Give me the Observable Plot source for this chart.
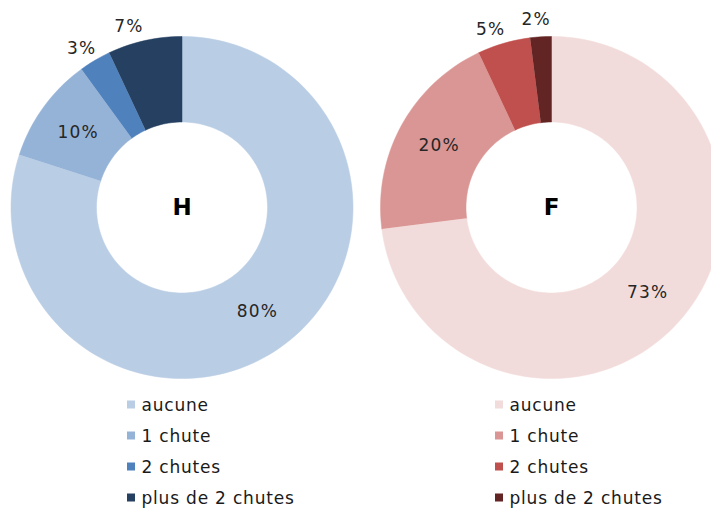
<!DOCTYPE html>
<html><head><meta charset="utf-8">
<script src="https://cdn.jsdelivr.net/npm/d3@7"></script>
<script src="https://cdn.jsdelivr.net/npm/@observablehq/plot@0.6"></script>
<style>body{margin:0;background:#fff;overflow:hidden} .lbl text{letter-spacing:1.2px} .leg text{letter-spacing:0.8px}</style>
</head><body><div id="chart"></div>
<script>
// ---- data ----
const categories = ["aucune", "1 chute", "2 chutes", "plus de 2 chutes"];
const groups = ["H", "F"];
const valuesH = [80, 10, 3, 7];
const valuesF = [73, 20, 5, 2];
const colorsH = ["#b9cde5", "#95b3d7", "#4f81bd", "#254061"];
const colorsF = ["#f2dcdb", "#da9694", "#c0504d", "#632523"];

// ---- layout (in units of donut outer radius) ----
const W = 711, H = 509, R = 171;           // px
const cxPx = [181.5, 551], cyPx = 207;
const toX = px => (px - cxPx[0]) / R;
const toY = py => (cyPx - py) / R;
const inner = 0.5;
const series = [
  {g: "H", values: valuesH, colors: colorsH, cx: toX(cxPx[0]), sq: toX(131), tx: toX(141)},
  {g: "F", values: valuesF, colors: colorsF, cx: toX(cxPx[1]), sq: toX(499), tx: toX(509)}
];

const arcPts = [], labels = [], legendRects = [], legendText = [], centers = [];
for (const s of series) {
  const total = d3.sum(s.values);
  let acc = 0;
  s.values.forEach((v, i) => {
    const a0 = acc / total * 2 * Math.PI, a1 = (acc + v) / total * 2 * Math.PI;
    acc += v;
    const key = s.g + i, n = Math.max(3, Math.ceil(v * 2));
    for (let k = 0; k <= n; k++) {
      const a = a0 + (a1 - a0) * k / n;
      arcPts.push({key, color: s.colors[i], x: s.cx + Math.sin(a), y: Math.cos(a)});
    }
    for (let k = n; k >= 0; k--) {
      const a = a0 + (a1 - a0) * k / n;
      arcPts.push({key, color: s.colors[i], x: s.cx + inner * Math.sin(a), y: inner * Math.cos(a)});
    }
    const outside = v < 8;
    const am = outside ? a0 + (a1 - a0) * 0.35 : (a0 + a1) / 2;
    const lr = outside ? 1.1 : (1 + inner) / 2;
    labels.push({x: s.cx + lr * Math.sin(am), y: lr * Math.cos(am), text: v + "%"});
    const ly = toY(404.5 + 31 * i), h = 4 / R;
    legendRects.push({x1: s.sq - h, x2: s.sq + h, y1: ly - h, y2: ly + h, color: s.colors[i]});
    legendText.push({x: s.tx, y: ly, text: categories[i]});
  });
  centers.push({x: s.cx, y: 0, text: s.g});
}

const chart = Plot.plot({
  width: W, height: H,
  margin: 0,
  x: {domain: [toX(0), toX(W)], axis: null},
  y: {domain: [toY(H), toY(0)], axis: null},
  color: {type: "identity"},
  style: {fontFamily: "'DejaVu Sans', Verdana, sans-serif", background: "#fff"},
  marks: [
    Plot.line(arcPts, {x: "x", y: "y", z: "key", fill: "color", stroke: "color", strokeWidth: 0.5, curve: "linear"}),
    Plot.text(labels, {x: "x", y: "y", text: "text", fontSize: 17, fill: "#262626", className: "lbl"}),
    Plot.text(centers, {x: "x", y: "y", text: "text", fontSize: 23, fontWeight: "bold", fill: "#000"}),
    Plot.rect(legendRects, {x1: "x1", x2: "x2", y1: "y1", y2: "y2", fill: "color"}),
    Plot.text(legendText, {x: "x", y: "y", text: "text", textAnchor: "start", fontSize: 17, dy: 1, fill: "#1a1a1a", className: "leg"})
  ]
});
document.getElementById("chart").append(chart);
</script>
</body></html>
